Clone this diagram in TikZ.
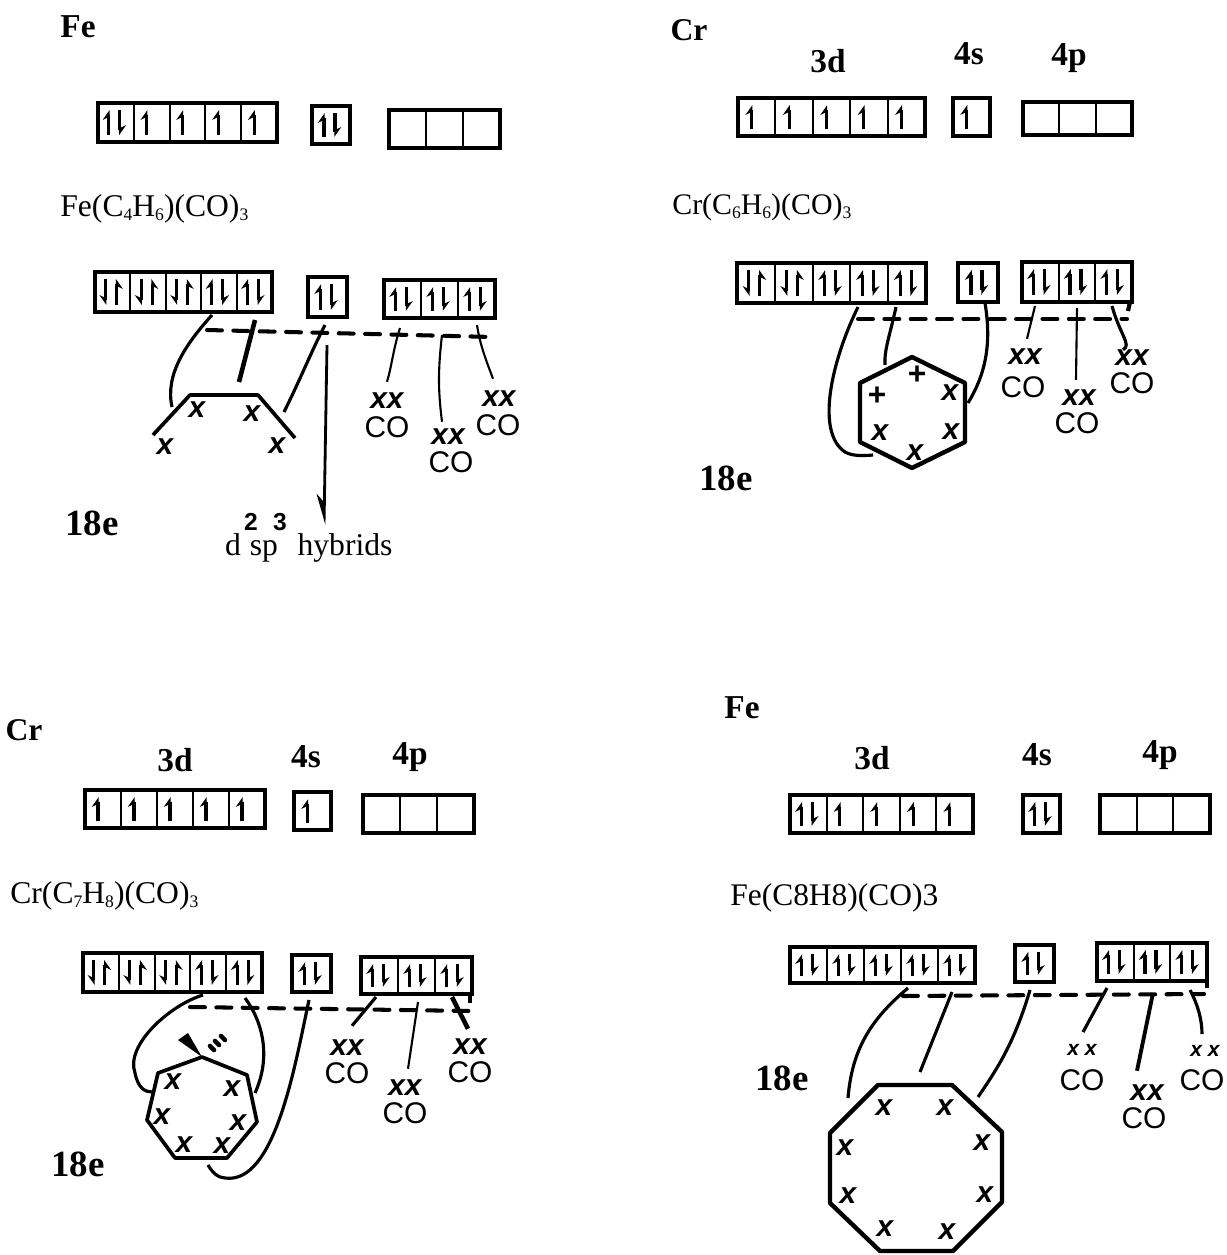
\documentclass[tikz,border=0pt]{standalone}
\usepackage{fontspec}
\setmainfont{Liberation Serif}
\newfontfamily\handfont{Liberation Sans}
\usetikzlibrary{calc,arrows.meta}

\tikzset{
	orbbox/.style={line width=2.4pt},
	orbdiv/.style={line width=1.1pt},
	spin/.style={line width=1.8pt,-{Stealth[harpoon,length=5pt,width=7pt]}},
	spinalt/.style={line width=1.8pt,-{Stealth[harpoon,swap,length=5pt,width=7pt]}},
	dashline/.style={line width=2.3pt,line cap=round,dash pattern=on 8.5pt off 6.5pt},
	lead/.style={line width=1.2pt},
	leadmid/.style={line width=1.8pt},
	leadthick/.style={line width=2.6pt},
	ring/.style={line width=2.1pt,line join=round},
	title/.style={font=\fontsize{18}{18}\selectfont,anchor=base west,inner sep=0pt},
	head/.style={font=\fontsize{19}{19}\selectfont\bfseries,inner sep=0pt},
	elem/.style={font=\fontsize{18}{18}\selectfont\bfseries,inner sep=0pt},
	tag/.style={font=\fontsize{21}{21}\selectfont\bfseries,inner sep=0pt},
	hybtext/.style={font=\fontsize{18}{18}\selectfont,anchor=base,inner sep=0pt},
	hybdigit/.style={font=\fontsize{14}{14}\selectfont\handfont\bfseries,inner sep=0pt},
	xmark/.style={font=\fontsize{17}{17}\selectfont\handfont\bfseries\itshape,inner sep=0pt},
	xsmall/.style={font=\fontsize{12}{12}\selectfont\handfont\bfseries\itshape,inner sep=0pt},
	pmark/.style={font=\fontsize{18}{18}\selectfont\handfont\bfseries,inner sep=0pt},
	comark/.style={font=\fontsize{17}{17}\selectfont\handfont,inner sep=0pt},
}

%name, x1, y1, x2, y2, number of cells, cells (0 empty, 1 up, 2 up-down, 3 down-up)
\newcommand{\orbrow}[7]{
	\coordinate (#1) at (#2,#5);
	\draw[orbbox] (#2,#3) rectangle (#4,#5);
	\foreach \k [count=\i] in {#7} {
		\pgfmathsetmacro{\xa}{#2+(\i-0.5)*(#4-#2)/#6}
		\pgfmathsetmacro{\xb}{#2+\i*(#4-#2)/#6}
		\pgfmathsetmacro{\ya}{#3+7}
		\pgfmathsetmacro{\yb}{#5-7}
		\ifnum\i<#6 \draw[orbdiv] (\xb,#3)--(\xb,#5); \fi
		\ifnum\k=1 \draw[spin] (\xa-5,\yb)--(\xa-5,\ya); \fi
		\ifnum\k=2
			\draw[spin] (\xa-7,\yb)--(\xa-7,\ya);
			\draw[spin] (\xa+4,\ya)--(\xa+4,\yb);
		\fi
		\ifnum\k=3
			\draw[spinalt] (\xa-7,\ya)--(\xa-7,\yb);
			\draw[spinalt] (\xa+4,\yb)--(\xa+4,\ya);
		\fi
	}
}
%small low digit of the formulas
\newcommand{\lowd}[1]{\raisebox{-0.3ex}{\fontsize{10}{10}\selectfont #1}}

\begin{document}
\begin{tikzpicture}[x=0.02cm,y=-0.02cm]
	\useasboundingbox (0,0) rectangle (1227,1255);

	%top-left - labels
	\node[head] (feAname) at (78,27) {Fe};
	\node[title] (feAform) at (60,216) {Fe(C\lowd{4}H\lowd{6})(CO)\lowd{3}};
	\node[tag] (feAtag) at (92,523) {18e};

	%top-left - orbitals
	\orbrow{feAd}{98}{103}{277}{142}{5}{2,1,1,1,1}
	\orbrow{feAs}{312}{106}{350}{144}{1}{2}
	\orbrow{feAp}{389}{110}{500}{148}{3}{0,0,0}
	\orbrow{feBd}{95}{272}{272}{312}{5}{3,3,3,2,2}
	\orbrow{feBs}{308}{277}{347}{317}{1}{2}
	\orbrow{feBp}{384}{280}{495}{318}{3}{2,2,2}
	\draw[dashline] ($(feBd)+(112,18)$)--($(feBp)+(109,19)$);

	%top-left - butadiene
	\coordinate (buA) at (153,435);
	\coordinate (buB) at (190,395);
	\coordinate (buC) at (258,395);
	\coordinate (buD) at (295,438);
	\draw[ring] (buA)--(buB)--(buC)--(buD);
	\node[xmark] (buXa) at (165,447) {x};
	\node[xmark] (buXb) at (197,410) {x};
	\node[xmark] (buXc) at (252,414) {x};
	\node[xmark] (buXd) at (277,446) {x};

	%top-left - carbonyls
	\node[xmark] (xxAa) at (387,401) {xx};
	\node[comark] (coAa) at (387,427) {CO};
	\node[xmark] (xxAb) at (448,437) {xx};
	\node[comark] (coAb) at (451,462) {CO};
	\node[xmark] (xxAc) at (499,399) {xx};
	\node[comark] (coAc) at (498,425) {CO};

	%top-left - lines
	\draw[leadmid] ($(feBd)+(117,3)$) .. controls (185,345) and (165,375) .. ($(buB)+(-18,12)$);
	\draw[leadthick] ($(feBd)+(160,8)$)--($(buB)+(49,-13)$);
	\draw[leadmid] ($(feBs)+(17,8)$) .. controls (312,350) and (300,380) .. ($(buD)+(-11,-26)$);
	\draw[lead] ($(feBp)+(16,10)$) .. controls (393,350) and (392,365) .. ($(xxAa.north)+(0,-11)$);
	\draw[lead] ($(feBp)+(58,17)$) .. controls (438,370) and (438,390) .. ($(xxAb.north)+(-6,-7)$);
	\draw[lead] ($(feBp)+(93,7)$) .. controls (480,345) and (486,360) .. ($(xxAc.north)+(-6,-12)$);
	\coordinate (hyb) at (324,525);
	\draw[line width=1.6pt,-{Stealth[harpoon,swap,length=15pt,width=9pt]}] ($(feBs)+(19,28)$)--(hyb);

	%top-left - hybrids
	\node[hybtext] (hybD) at (233,555) {d};
	\node[hybtext] (hybSp) at (264,555) {sp};
	\node[hybtext] (hybT) at (345,555) {hybrids};
	\node[hybdigit] (hybTwo) at (251,522) {2};
	\node[hybdigit] (hybThree) at (280,522) {3};

	%top-right - labels
	\node[elem] (crAname) at (689,30) {Cr};
	\node[head] (crA3d) at (828,61) {3d};
	\node[head] (crA4s) at (969,54) {4s};
	\node[head] (crA4p) at (1069,58) {4p};
	\node[title,font=\fontsize{17}{17}\selectfont] (crAform) at (672,214) {Cr(C\lowd{6}H\lowd{6})(CO)\lowd{3}};
	\node[tag] (crAtag) at (726,478) {18e};

	%top-right - orbitals
	\orbrow{crAd}{738}{98}{925}{136}{5}{1,1,1,1,1}
	\orbrow{crAs}{953}{98}{990}{136}{1}{1}
	\orbrow{crAp}{1023}{102}{1132}{135}{3}{0,0,0}
	\orbrow{crBd}{737}{263}{926}{303}{5}{3,3,2,2,2}
	\orbrow{crBs}{958}{263}{998}{302}{1}{2}
	\orbrow{crBp}{1022}{262}{1132}{302}{3}{2,2,2}
	\draw[orbbox] ($(crBp)+(108,0)$)--($(crBp)+(106,9)$);
	\draw[dashline] ($(crBd)+(121,16)$)--($(crBp)+(105,17)$);

	%top-right - benzene
	\coordinate (hxA) at (912,357);
	\coordinate (hxB) at (965,383);
	\coordinate (hxC) at (965,442);
	\coordinate (hxD) at (912,468);
	\coordinate (hxE) at (860,442);
	\coordinate (hxF) at (860,383);
	\draw[ring,line width=2.5pt] (hxA)--(hxB)--(hxC)--(hxD)--(hxE)--(hxF)--cycle;
	\node[pmark] (hxPa) at (877,396) {+};
	\node[pmark] (hxPb) at (917,375) {+};
	\foreach \x/\y [count=\i] in {950/393,951/432,915/453,880/433} {
		\node[xmark] (hxX\i) at (\x,\y) {x};
	}

	%top-right - carbonyls
	\node[xmark] (xxBa) at (1025,357) {xx};
	\node[comark] (coBa) at (1023,387) {CO};
	\node[xmark] (xxBb) at (1079,398) {xx};
	\node[comark] (coBb) at (1077,423) {CO};
	\node[xmark] (xxBc) at (1132,358) {xx};
	\node[comark] (coBc) at (1132,383) {CO};

	%top-right - lines
	\draw[leadmid] ($(crBd)+(121,4)$) .. controls (832,360) and (815,432) .. (845,452) .. controls (852,456) and (862,456) .. ($(hxE)+(13,13)$);
	\draw[leadmid] ($(crBd)+(159,4)$) .. controls (890,335) and (884,350) .. ($(hxA)+(-27,8)$);
	\draw[leadmid] ($(crBs)+(27,1)$) .. controls (992,345) and (985,375) .. ($(hxB)+(3,20)$);
	\draw[lead] ($(crBp)+(13,4)$)--($(xxBa.north)+(2,-10)$);
	\draw[lead] ($(crBp)+(55,6)$)--($(xxBb.north)+(-3,-10)$);
	\draw[leadmid] ($(crBp)+(90,4)$) .. controls (1120,335) and (1132,345) .. ($(xxBc.north)+(-9,0)$);

	%bottom-left - labels
	\node[elem] (crCname) at (24,730) {Cr};
	\node[head] (crC3d) at (175,760) {3d};
	\node[head] (crC4s) at (306,757) {4s};
	\node[head] (crC4p) at (410,757) {4p};
	\node[title] (crCform) at (10,903) {Cr(C\lowd{7}H\lowd{8})(CO)\lowd{3}};
	\node[tag] (crCtag) at (78,1164) {18e};

	%bottom-left - orbitals
	\orbrow{crCd}{85}{790}{265}{828}{5}{1,1,1,1,1}
	\orbrow{crCs}{294}{792}{331}{830}{1}{1}
	\orbrow{crCp}{363}{795}{474}{833}{3}{0,0,0}
	\orbrow{crDd}{83}{953}{262}{992}{5}{3,3,3,2,2}
	\orbrow{crDs}{292}{955}{331}{992}{1}{2}
	\orbrow{crDp}{361}{957}{472}{994}{3}{2,2,2}
	\draw[orbbox] ($(crDp)+(109,0)$)--($(crDp)+(109,9)$);
	\draw[dashline] ($(crDd)+(107,15)$)--($(crDp)+(111,17)$);

	%bottom-left - cycloheptatriene
	\coordinate (hpA) at (202,1057);
	\coordinate (hpB) at (247,1075);
	\coordinate (hpC) at (257,1122);
	\coordinate (hpD) at (227,1158);
	\coordinate (hpE) at (175,1158);
	\coordinate (hpF) at (147,1120);
	\coordinate (hpG) at (158,1073);
	\draw[ring] (hpA)--(hpB)--(hpC)--(hpD)--(hpE)--(hpF)--(hpG)--cycle;
	\fill ($(hpA)+(-24,-17)$)--($(hpA)+(-14,-24)$)--(hpA)--cycle;
	\draw[line width=2.6pt,line cap=round] (210,1046)--(214,1050) (215,1041)--(219,1045) (221,1036)--(225,1040);
	\foreach \x/\y [count=\i] in {173/1082,232/1089,162/1117,238/1123,184/1145,222/1146} {
		\node[xmark] (hpX\i) at (\x,\y) {x};
	}

	%bottom-left - carbonyls
	\node[xmark] (xxCa) at (347,1048) {xx};
	\node[comark] (coCa) at (347,1073) {CO};
	\node[xmark] (xxCb) at (405,1088) {xx};
	\node[comark] (coCb) at (405,1113) {CO};
	\node[xmark] (xxCc) at (470,1047) {xx};
	\node[comark] (coCc) at (470,1072) {CO};

	%bottom-left - lines
	\draw[leadmid] ($(crDd)+(120,3)$) .. controls (170,1005) and (125,1045) .. (135,1073) .. controls (138,1088) and (145,1092) .. ($(hpG)+(-6,19)$);
	\draw[leadmid] ($(crDd)+(162,6)$) .. controls (265,1025) and (270,1060) .. ($(hpC)+(-2,-29)$);
	\draw[leadmid] ($(crDs)+(17,8)$) .. controls (295,1065) and (275,1185) .. (225,1178) .. controls (218,1178) and (212,1172) .. (208,1165);
	\draw[leadmid] ($(crDp)+(15,3)$)--($(xxCa.north)+(5,-14)$);
	\draw[lead] ($(crDp)+(57,8)$)--($(xxCb.north)+(3,-11)$);
	\draw[leadthick] ($(crDp)+(91,3)$)--($(xxCc.north)+(-2,-10)$);

	%bottom-right - labels
	\node[head] (feCname) at (742,708) {Fe};
	\node[head] (feC3d) at (872,758) {3d};
	\node[head] (feC4s) at (1037,755) {4s};
	\node[head] (feC4p) at (1160,755) {4p};
	\node[title,font=\fontsize{17.9}{17.9}\selectfont] (feCform) at (730,905) {Fe(C8H8)(CO)3};
	\node[tag] (feCtag) at (782,1078) {18e};

	%bottom-right - orbitals
	\orbrow{feCd}{790}{795}{973}{833}{5}{2,1,1,1,1}
	\orbrow{feCs}{1023}{795}{1060}{833}{1}{2}
	\orbrow{feCp}{1100}{795}{1210}{833}{3}{0,0,0}
	\orbrow{feDd}{790}{947}{975}{983}{5}{2,2,2,2,2}
	\orbrow{feDs}{1015}{945}{1054}{982}{1}{2}
	\orbrow{feDp}{1097}{943}{1207}{981}{3}{2,2,2}
	\draw[orbbox] ($(feDp)+(110,0)$)--($(feDp)+(110,7)$);
	\draw[dashline] ($(feDd)+(113,13)$)--($(feDp)+(107,13)$);

	%bottom-right - cyclooctatetraene
	\coordinate (ocA) at (878,1085);
	\coordinate (ocB) at (952,1085);
	\coordinate (ocC) at (1002,1132);
	\coordinate (ocD) at (1002,1202);
	\coordinate (ocE) at (953,1251);
	\coordinate (ocF) at (880,1251);
	\coordinate (ocG) at (830,1203);
	\coordinate (ocH) at (830,1133);
	\draw[ring,line width=2.5pt] (ocA)--(ocB)--(ocC)--(ocD)--(ocE)--(ocF)--(ocG)--(ocH)--cycle;
	\foreach \x/\y [count=\i] in {884/1108,945/1108,982/1143,985/1195,947/1232,885/1229,848/1196,845/1148} {
		\node[xmark] (ocX\i) at (\x,\y) {x};
	}

	%bottom-right - carbonyls
	\node[xsmall] (xxDa) at (1082,1050) {x x};
	\node[comark] (coDa) at (1082,1080) {CO};
	\node[xmark] (xxDb) at (1147,1093) {xx};
	\node[comark] (coDb) at (1144,1118) {CO};
	\node[xsmall] (xxDc) at (1205,1051) {x x};
	\node[comark] (coDc) at (1202,1080) {CO};

	%bottom-right - lines
	\draw[leadmid] ($(feDd)+(118,5)$) .. controls (870,1020) and (852,1050) .. ($(ocH)+(18,-35)$);
	\draw[leadmid] ($(feDd)+(162,9)$)--($(ocA)+(42,-13)$);
	\draw[leadmid] ($(feDs)+(15,8)$) .. controls (1015,1040) and (1000,1065) .. ($(ocB)+(26,12)$);
	\draw[leadmid] ($(feDp)+(10,7)$)--($(xxDa.north)+(1,-12)$);
	\draw[line width=2.2pt] ($(feDp)+(56,12)$)--($(xxDb.north)+(-10,-14)$);
	\draw[leadmid] ($(feDp)+(93,9)$) .. controls (1198,1005) and (1202,1020) .. ($(xxDc.north)+(-3,-11)$);
\end{tikzpicture}
\end{document}
